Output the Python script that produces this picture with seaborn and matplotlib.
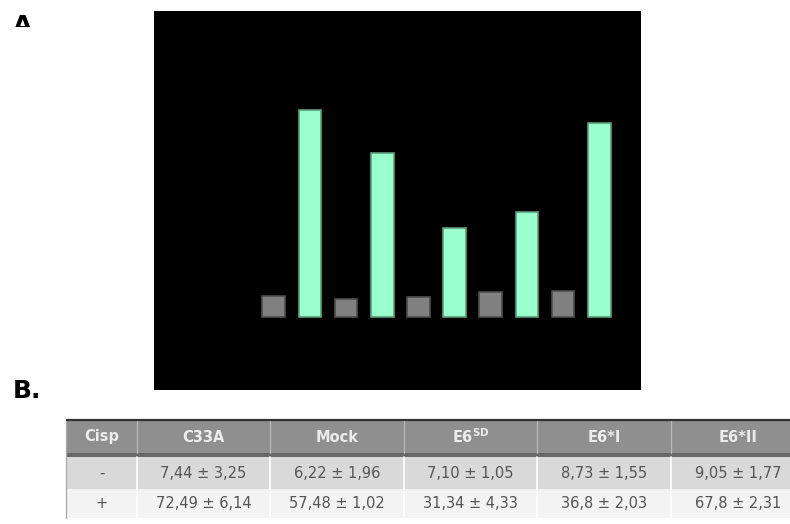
import matplotlib
matplotlib.use("Agg")
import matplotlib.pyplot as plt
import seaborn as sns
import pandas as pd
from matplotlib.patches import Rectangle
from matplotlib.transforms import Bbox, TransformedBbox

# Cell lines / constructs and cisplatin treatment
groups = ["C33A", "Mock", r"E6$^{\mathbf{SD}}$", "E6*I", "E6*II"]
cisp_levels = ["-", "+"]

# Mean ± SD per condition (as printed, decimal comma)
untreated_mean = ["7,44", "6,22", "7,10", "8,73", "9,05"]
untreated_sd = ["3,25", "1,96", "1,05", "1,55", "1,77"]
treated_mean = ["72,49", "57,48", "31,34", "36,8", "67,8"]
treated_sd = ["6,14", "1,02", "4,33", "2,03", "2,31"]


def to_float(s):
    return float(s.replace(",", "."))


rows = []
for g, m0, m1 in zip(groups, untreated_mean, treated_mean):
    rows.append({"group": g, "cisp": "-", "value": to_float(m0)})
    rows.append({"group": g, "cisp": "+", "value": to_float(m1)})
df = pd.DataFrame(rows)

sns.set_theme(style="white")
plt.rcParams["font.family"] = ["DejaVu Sans"]

W, H = 790, 524
fig = plt.figure(figsize=(W / 100, H / 100), dpi=100)


def frac(x0, y0, x1, y1):
    return [x0 / W, 1 - y1 / H, (x1 - x0) / W, (y1 - y0) / H]


# ---- Panel A: bar chart on black background ----
ax = fig.add_axes(frac(154, 11, 641, 390))
ax.set_facecolor("black")
sns.barplot(
    data=df, x="group", y="value", hue="cisp",
    order=groups, hue_order=cisp_levels,
    palette={"-": "#808080", "+": "#99FFCC"},
    width=1.0, gap=0.375, errorbar=None, legend=False,
    saturation=1, ax=ax,
)
edge_cols = {0: "#4d4d4d", 1: "#5e9c7d"}
for i, cont in enumerate(ax.containers):
    for bar in cont:
        bar.set_edgecolor(edge_cols[i])
        bar.set_linewidth(1.2)
ax.set_xlim(-1.903, 4.826)
ax.set_ylim(-25.4, 107)
ax.set_xticks([])
ax.set_yticks([])
ax.set_xlabel("")
ax.set_ylabel("")
for s in ax.spines.values():
    s.set_visible(False)

# ---- Panel B: summary table ----
tax = fig.add_axes([0, 0, 1, 1])
tax.set_xlim(0, W)
tax.set_ylim(H, 0)
tax.axis("off")

col_edges = [66, 137, 270, 404, 537, 671, 805]
x_left, x_right = col_edges[0], col_edges[-1]
hdr_top, hdr_bot = 421, 453
sep_bot = 457
r1_bot = 489
r2_bot = 518

tax.add_patch(Rectangle((x_left, hdr_top), x_right - x_left, hdr_bot - hdr_top,
                        fc="#8f8f8f", ec="none"))
tax.add_patch(Rectangle((x_left, hdr_bot), x_right - x_left, sep_bot - hdr_bot,
                        fc="#686868", ec="none"))
tax.add_patch(Rectangle((x_left, sep_bot), x_right - x_left, r1_bot - sep_bot,
                        fc="#d9d9d9", ec="none"))
tax.add_patch(Rectangle((x_left, r1_bot), x_right - x_left, r2_bot - r1_bot,
                        fc="#f3f3f3", ec="none"))
tax.plot([x_left, x_right], [420, 420], color="#333333", lw=1.6,
         solid_capstyle="butt")
tax.plot([x_left, x_left], [hdr_top, r2_bot], color="#a8a8a8", lw=0.9)
for xe in col_edges[1:-1]:
    tax.plot([xe, xe], [hdr_top, hdr_bot], color="#b8b8b8", lw=0.9)
    tax.plot([xe, xe], [sep_bot, r2_bot], color="white", lw=1.2)

centers = [(a + b) / 2 for a, b in zip(col_edges[:-1], col_edges[1:])]
hdr_y = (hdr_top + hdr_bot) / 2
r1_y = (sep_bot + r1_bot) / 2
r2_y = (r1_bot + r2_bot) / 2

header = ["Cisp"] + groups
for cx, lab in zip(centers, header):
    tax.text(cx, hdr_y, lab, ha="center", va="center", fontsize=10.5,
             fontweight="bold", color="#ececec")

body_kw = dict(ha="center", va="center", fontsize=10.5, color="#555555")
tax.text(centers[0], r1_y, cisp_levels[0], **body_kw)
tax.text(centers[0], r2_y, cisp_levels[1], **body_kw)
for cx, m, s in zip(centers[1:], untreated_mean, untreated_sd):
    tax.text(cx, r1_y, f"{m} ± {s}", **body_kw)
for cx, m, s in zip(centers[1:], treated_mean, treated_sd):
    tax.text(cx, r2_y, f"{m} ± {s}", **body_kw)

# ---- Panel letters ----
a_lab = fig.text(13 / W, 1 - 14 / H, "A.", ha="left", va="top",
                 fontsize=18, fontweight="bold", color="black")
a_lab.set_clip_on(True)
a_lab.set_clip_box(TransformedBbox(Bbox([[0, 1 - 27 / H], [1, 1]]),
                                   fig.transFigure))
fig.text(13 / W, 1 - 379 / H, "B.", ha="left", va="top",
         fontsize=18, fontweight="bold", color="black")

fig.savefig("out.png", dpi=100)
